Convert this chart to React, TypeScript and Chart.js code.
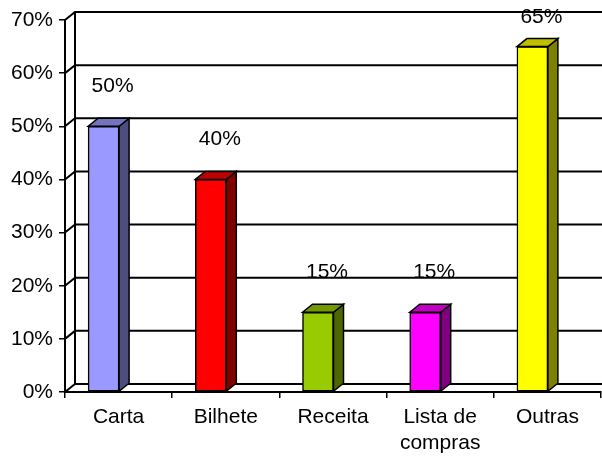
import React, { useEffect, useRef } from "react";
import { Chart, registerables } from "chart.js";

Chart.register(...registerables);

const categories: (string | string[])[] = ["Carta", "Bilhete", "Receita", ["Lista de", "compras"], "Outras"];
const values = [50, 40, 15, 15, 65];
const frontColors = ["#9999FF", "#FF0000", "#99CC00", "#FF00FF", "#FFFF00"];
const sideColors = ["#4D4D80", "#800000", "#4D6600", "#800080", "#808000"];
const topColors = ["#7373BF", "#BF0000", "#739900", "#BF00BF", "#BFBF00"];
const yMin = 0;
const yMax = 70;
const yStep = 10;

const DX = 10;
const DY = -8;
const SHIFT = -15;
const FONT = "'Liberation Sans', Arial, sans-serif";
const FSIZE = 21;

const threeD = {
  id: "threeD",
  beforeDatasetsDraw(chart: any) {
    const { ctx, chartArea, scales } = chart;
    const y = scales.y;
    ctx.save();
    ctx.strokeStyle = "#000";
    ctx.lineWidth = 2;
    y.ticks.forEach((t: any) => {
      const py = y.getPixelForValue(t.value);
      ctx.beginPath();
      ctx.moveTo(chartArea.left, py);
      ctx.lineTo(chartArea.left + DX, py + DY);
      ctx.lineTo(chartArea.right + DX, py + DY);
      ctx.stroke();
    });
    ctx.beginPath();
    ctx.moveTo(chartArea.left + DX, y.getPixelForValue(yMin) + DY);
    ctx.lineTo(chartArea.left + DX, y.getPixelForValue(yMax) + DY);
    ctx.stroke();
    ctx.restore();
  },
  beforeDatasetDraw(chart: any) {
    chart.ctx.save();
    chart.ctx.translate(SHIFT, 0);
  },
  afterDatasetDraw(chart: any, args: any) {
    const { ctx } = chart;
    const meta = args.meta;
    ctx.lineWidth = 1.5;
    ctx.strokeStyle = "#000";
    ctx.lineJoin = "miter";
    meta.data.forEach((bar: any, i: number) => {
      const p = bar.getProps(["x", "y", "base", "width"], true);
      const l = p.x - p.width / 2;
      const r = p.x + p.width / 2;
      const top = p.y;
      const bot = p.base;
      ctx.beginPath();
      ctx.moveTo(r, top);
      ctx.lineTo(r + DX, top + DY);
      ctx.lineTo(r + DX, bot + DY);
      ctx.lineTo(r, bot);
      ctx.closePath();
      ctx.fillStyle = sideColors[i];
      ctx.fill();
      ctx.stroke();
      ctx.beginPath();
      ctx.moveTo(l, top);
      ctx.lineTo(l + DX, top + DY);
      ctx.lineTo(r + DX, top + DY);
      ctx.lineTo(r, top);
      ctx.closePath();
      ctx.fillStyle = topColors[i];
      ctx.fill();
      ctx.stroke();
    });
    ctx.restore();
  },
  afterDatasetsDraw(chart: any) {
    const { ctx, scales } = chart;
    ctx.save();
    ctx.fillStyle = "#000";
    ctx.font = `${FSIZE}px ${FONT}`;
    ctx.textAlign = "center";
    ctx.textBaseline = "middle";
    values.forEach((v, i) => {
      const px = scales.x.getPixelForValue(i) - 6;
      const py = Math.max(scales.y.getPixelForValue(v) - 40, 17);
      ctx.fillText(`${v}%`, px, py);
    });
    ctx.restore();
  },
};

export default function App() {
  const ref = useRef<HTMLCanvasElement>(null);
  useEffect(() => {
    if (!ref.current) return;
    const chart = new Chart(ref.current, {
      type: "bar",
      data: {
        labels: categories as any,
        datasets: [
          {
            data: values,
            backgroundColor: frontColors,
            borderColor: "#000",
            borderWidth: 1.5,
            borderSkipped: false,
            barThickness: 31,
          },
        ],
      },
      options: {
        animation: false,
        responsive: false,
        devicePixelRatio: 1,
        color: "#000",
        font: { family: FONT, size: FSIZE },
        layout: { padding: { top: 20, right: 1, left: 0, bottom: 0 } },
        plugins: { legend: { display: false }, tooltip: { enabled: false } },
        scales: {
          x: {
            grid: { display: true, drawOnChartArea: false, drawTicks: true, tickLength: 6, color: "#000", lineWidth: 1.5 },
            border: { display: true, color: "#000", width: 2 },
            ticks: { color: "#000", padding: 7, font: { family: FONT, size: FSIZE, lineHeight: 1.2 }, maxRotation: 0, autoSkip: false },
            afterFit: (s: any) => { s.height = 67; },
          },
          y: {
            min: yMin,
            max: yMax,
            grid: { display: true, drawOnChartArea: false, drawTicks: true, tickLength: 6, color: "#000", lineWidth: 1.5 },
            border: { display: true, color: "#000", width: 2 },
            ticks: { stepSize: yStep, color: "#000", padding: 6, font: { family: FONT, size: FSIZE }, callback: (v: any) => `${v}%` },
            afterFit: (s: any) => { s.width = 65; },
          },
        },
      },
      plugins: [threeD],
    });
    return () => chart.destroy();
  }, []);
  return (
    <canvas
      ref={ref}
      width={602}
      height={459}
      style={{ position: "absolute", left: 0, top: 0, width: 602, height: 459 }}
    />
  );
}
